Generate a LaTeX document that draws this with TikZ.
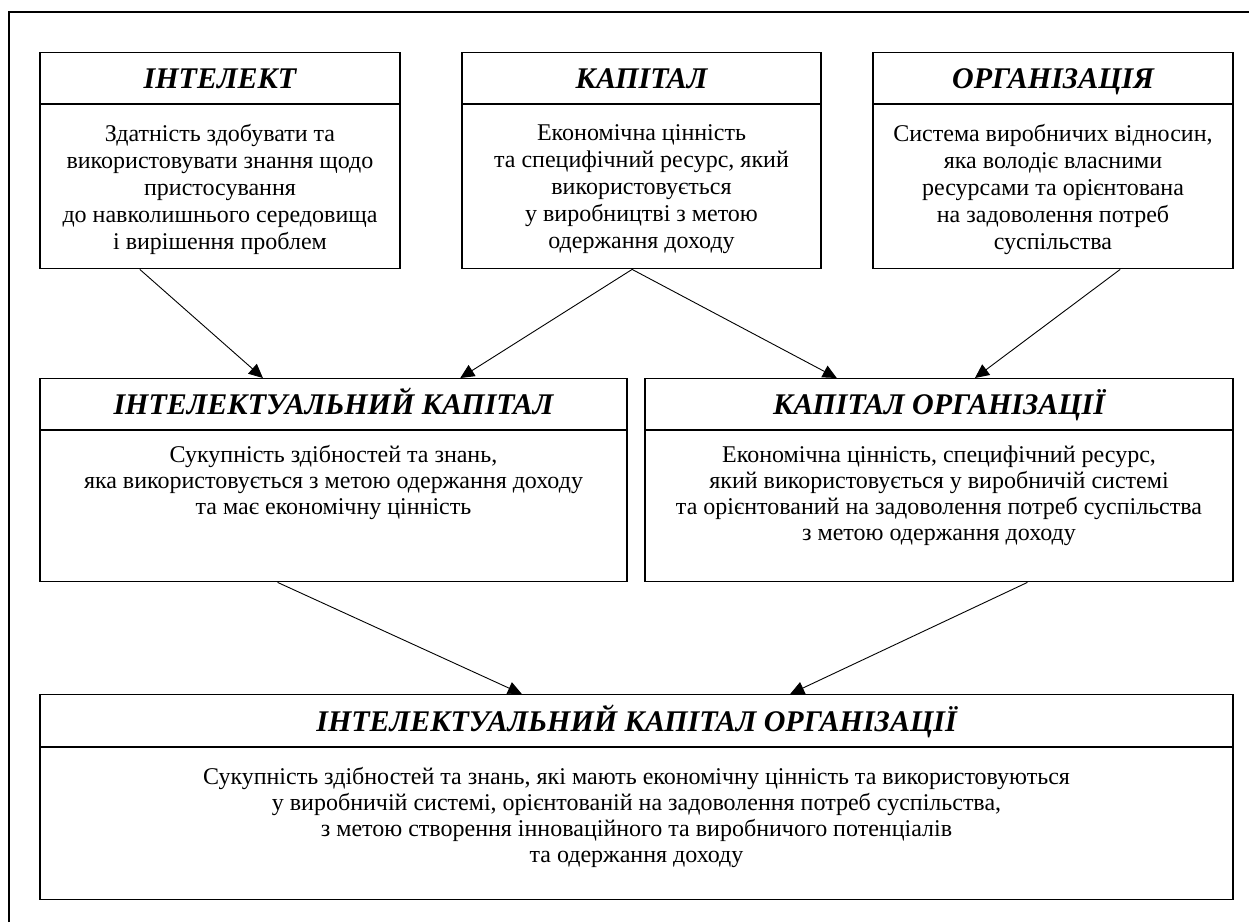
\documentclass[tikz,border=0pt]{standalone}
\usepackage{fontspec}
\setmainfont{Liberation Serif}
\usetikzlibrary{positioning,calc,arrows.meta}
\newcommand{\zagfont}{\fontsize{30}{33}\selectfont\bfseries\itshape}
\newcommand{\tekstfont}{\fontsize{24}{27}\selectfont}
\newcommand{\tekstfontb}{\fontsize{24}{26}\selectfont}
\newcommand{\opys}[4][0pt]{\parbox[c][#3][t]{#2}{\centering\vspace*{#1}#4}}

\begin{document}
\begin{tikzpicture}[x=1pt,y=-1pt]
\tikzset{zag/.style={draw, line width=1.2pt, inner sep=0pt, minimum height=51pt, text height=21pt, text depth=0pt, font=\zagfont},
  tekst/.style={draw, line width=1.2pt, inner sep=0pt, font=\tekstfont},
  strilka/.style={-{Triangle[length=14pt,width=13pt]}, line width=0.9pt}}
\useasboundingbox (0,0) rectangle (1249,922);
\draw[line width=2.6pt] (9,922) -- (9,12) -- (1249,12);

\node[zag, minimum width=360pt, anchor=north] at (220,52) (intelekt) {ІНТЕЛЕКТ};
\node[tekst, minimum width=360pt, below=0pt of intelekt] (intelekt-t) {\opys[20pt]{354pt}{164pt}{Здатність здобувати та\\ використовувати знання щодо\\ пристосування\\ до навколишнього середовища\\ і вирішення проблем}};

\node[zag, minimum width=359pt, anchor=north] at (641.5,52) (kapital) {КАПІТАЛ};
\node[tekst, minimum width=359pt, below=0pt of kapital] (kapital-t) {\opys[20pt]{353pt}{164pt}{Економічна цінність\\ та специфічний ресурс, який\\ використовується\\ у виробництві з метою\\ одержання доходу}};

\node[zag, minimum width=360pt, anchor=north] at (1053,52) (organizacija) {ОРГАНІЗАЦІЯ};
\node[tekst, minimum width=360pt, below=0pt of organizacija] (organizacija-t) {\opys[20pt]{354pt}{164pt}{Система виробничих відносин,\\ яка володіє власними\\ ресурсами та орієнтована\\ на задоволення потреб\\ суспільства}};

\node[zag, minimum width=587pt, anchor=north] at (333.5,378) (ik) {ІНТЕЛЕКТУАЛЬНИЙ КАПІТАЛ};
\node[tekst, font=\tekstfontb, minimum width=587pt, below=0pt of ik] (ik-t) {\opys[15pt]{577pt}{151pt}{Сукупність здібностей та знань,\\ яка використовується з метою одержання доходу\\ та має економічну цінність}};

\node[zag, minimum width=588pt, anchor=north] at (939,378) (ko) {КАПІТАЛ ОРГАНІЗАЦІЇ};
\node[tekst, font=\tekstfontb, minimum width=588pt, below=0pt of ko] (ko-t) {\opys[15pt]{578pt}{151pt}{Економічна цінність, специфічний ресурс,\\ який використовується у виробничій системі\\ та орієнтований на задоволення потреб суспільства\\ з метою одержання доходу}};

\node[zag, minimum width=1193pt, minimum height=52pt, anchor=north] at (636.5,694) (iko) {ІНТЕЛЕКТУАЛЬНИЙ КАПІТАЛ ОРГАНІЗАЦІЇ};
\node[tekst, font=\tekstfontb, minimum width=1193pt, below=0pt of iko] (iko-t) {\opys[20pt]{1183pt}{152pt}{Сукупність здібностей та знань, які мають економічну цінність та використовуються\\ у виробничій системі, орієнтованій на задоволення потреб суспільства,\\ з метою створення інноваційного та виробничого потенціалів\\ та одержання доходу}};

\draw[strilka] ($(intelekt-t.south west)!0.278!(intelekt-t.south east)$) -- ($(ik.north west)!0.38!(ik.north east)$);
\draw[strilka] ($(kapital-t.south west)!0.474!(kapital-t.south east)$) -- ($(ik.north west)!0.7155!(ik.north east)$);
\draw[strilka] ($(kapital-t.south west)!0.474!(kapital-t.south east)$) -- ($(ko.north west)!0.3265!(ko.north east)$);
\draw[strilka] ($(organizacija-t.south west)!0.686!(organizacija-t.south east)$) -- ($(ko.north west)!0.561!(ko.north east)$);
\draw[strilka] ($(ik-t.south west)!0.405!(ik-t.south east)$) -- ($(iko.north west)!0.404!(iko.north east)$);
\draw[strilka] ($(ko-t.south west)!0.65!(ko-t.south east)$) -- ($(iko.north west)!0.6287!(iko.north east)$);
\end{tikzpicture}
\end{document}
